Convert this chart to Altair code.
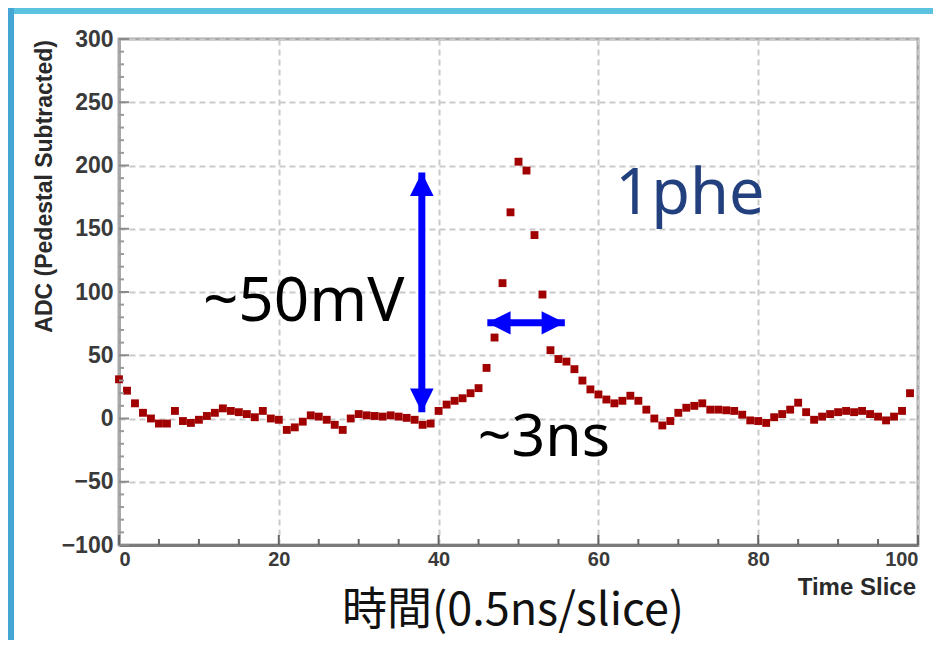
import altair as alt
import pandas as pd

# ---- data ----
slices = list(range(100))
adc = [31, 22, 12, 4.5, 0, -4, -4, 6, -2, -3.5,
       -1, 2, 4.5, 8, 6, 5, 3.5, 1, 6, 0,
       -1, -9, -7, -2.5, 2.5, 1.5, -1, -5, -9, 0,
       3.5, 2.5, 2, 1.5, 2.5, 1.5, 0.5, -1, -5, -4,
       6, 11, 14, 16, 20, 24, 40, 64, 107, 163,
       203, 196, 145, 98, 54, 47, 45, 39, 30, 23,
       19, 15, 12, 14, 18, 14, 7, 0, -5.5, -2,
       4.5, 8.5, 10, 12, 7, 7, 6.5, 6, 3, -1.5,
       -2, -3.5, 1, 3.5, 7, 12.5, 5, -1, 1.5, 3.5,
       5, 6, 5, 6, 3.5, 1.5, -1.5, 1.5, 6, 20]

x_major = [0, 20, 40, 60, 80, 100]
x_minor = [v for v in range(0, 101, 5) if v % 20 != 0]
y_major = [-100, -50, 0, 50, 100, 150, 200, 250, 300]
y_minor = [v for v in range(-100, 301, 10) if v % 50 != 0]

# annotations (data coordinates)
varrow_x = [37.9]
varrow_top = [194.5]
varrow_bot = [5.0]
harrow_y = [75.6]
harrow_left = [46.1]
harrow_right = [55.8]

W, H = 799, 506
xs = alt.Scale(domain=[0, 100], nice=False, zero=False)
ys = alt.Scale(domain=[-100, 300], nice=False, zero=False)

TICK_FONT = "Liberation Sans"

XAX = alt.Axis(values=x_major, title=None, grid=True, ticks=False,
               labelPadding=4, domainColor="#7A7A7A", domainWidth=3,
               labelFlush=True, labelOverlap=False, labelFontSize=20)
YAX = alt.Axis(values=y_major, title=None, grid=True, ticks=False,
               labelPadding=6, domainColor="#A8A8A8", domainWidth=3,
               labelFlush=False, labelOverlap=False, labelBaseline="middle",
               labelFontSize=23)


def X(field):
    return alt.X(field, scale=xs, axis=XAX)


def Y(field):
    return alt.Y(field, scale=ys, axis=YAX)


df = pd.DataFrame({"slice": slices, "adc": adc})
one = pd.DataFrame({"a": [0]})

points = alt.Chart(df).mark_square(size=62, color="#A00000", opacity=1).encode(
    x=X("slice:Q"), y=Y("adc:Q"))

ymaj = alt.Chart(pd.DataFrame({"v": y_major})).mark_rule(color="#8A8A8A", strokeWidth=2).encode(
    y=Y("v:Q"), x=alt.value(0), x2=alt.value(10))
ymin = alt.Chart(pd.DataFrame({"v": y_minor})).mark_rule(color="#9A9A9A", strokeWidth=2).encode(
    y=Y("v:Q"), x=alt.value(0), x2=alt.value(5))
xmaj = alt.Chart(pd.DataFrame({"v": x_major})).mark_rule(color="#666666", strokeWidth=2).encode(
    x=X("v:Q"), y=alt.value(H), y2=alt.value(H - 10))
xmin = alt.Chart(pd.DataFrame({"v": x_minor})).mark_rule(color="#666666", strokeWidth=2).encode(
    x=X("v:Q"), y=alt.value(H), y2=alt.value(H - 6))

BLUE = "#0000FF"
vshaft = alt.Chart(pd.DataFrame({"x": varrow_x, "y1": varrow_top, "y2": varrow_bot})).mark_rule(
    color=BLUE, strokeWidth=7).encode(x=X("x:Q"), y=Y("y1:Q"), y2="y2:Q")
vhead_up = alt.Chart(pd.DataFrame({"x": varrow_x, "y": varrow_top})).mark_point(
    shape="M0,0L-1,2L1,2Z", size=560, filled=True, color=BLUE, opacity=1, strokeWidth=0).encode(
    x=X("x:Q"), y=Y("y:Q"))
vhead_dn = alt.Chart(pd.DataFrame({"x": varrow_x, "y": varrow_bot})).mark_point(
    shape="M0,0L-1,-2L1,-2Z", size=560, filled=True, color=BLUE, opacity=1, strokeWidth=0).encode(
    x=X("x:Q"), y=Y("y:Q"))

hshaft = alt.Chart(pd.DataFrame({"x1": harrow_left, "x2": harrow_right, "y": harrow_y})).mark_rule(
    color=BLUE, strokeWidth=7).encode(x=X("x1:Q"), x2="x2:Q", y=Y("y:Q"))
hhead_l = alt.Chart(pd.DataFrame({"x": harrow_left, "y": harrow_y})).mark_point(
    shape="M0,0L2,-1L2,1Z", size=540, filled=True, color=BLUE, opacity=1, strokeWidth=0).encode(
    x=X("x:Q"), y=Y("y:Q"))
hhead_r = alt.Chart(pd.DataFrame({"x": harrow_right, "y": harrow_y})).mark_point(
    shape="M0,0L-2,-1L-2,1Z", size=540, filled=True, color=BLUE, opacity=1, strokeWidth=0).encode(
    x=X("x:Q"), y=Y("y:Q"))


def label(text, x, y, size, color="#000000", font="Noto Sans"):
    return alt.Chart(pd.DataFrame({"x": [x], "y": [y], "t": [text]})).mark_text(
        align="left", baseline="alphabetic", font=font, fontSize=size, color=color).encode(
        x=X("x:Q"), y=Y("y:Q"), text="t:N")


t50 = label("~50mV", 10.5, 77, 62)
t3 = label("~3ns", 44.9, -30, 59)
t1 = label("1phe", 62.1, 162, 63, color="#22407E")

ytitle = alt.Chart(one).mark_text(
    text="ADC (Pedestal Subtracted)", angle=270, align="right", baseline="middle",
    font=TICK_FONT, fontWeight="bold", fontSize=23, color="#2A2A2A").encode(
    x=alt.value(-74), y=alt.value(1))
xtitle = alt.Chart(one).mark_text(
    text="Time Slice", align="right", baseline="middle",
    font=TICK_FONT, fontWeight="bold", fontSize=24, color="#2A2A2A").encode(
    x=alt.value(797), y=alt.value(549))
jtitle = alt.Chart(one).mark_text(
    text="時間(0.5ns/slice)", align="center", baseline="alphabetic",
    font="Noto Sans CJK JP", fontSize=45, color="#111111").encode(
    x=alt.value(394), y=alt.value(586))

top_strip = alt.Chart(one).mark_rect(color="#5BC3E0").encode(
    x=alt.value(-111), x2=alt.value(W + 15), y=alt.value(-31), y2=alt.value(-25))
left_strip = alt.Chart(one).mark_rect(color="#45A6D6").encode(
    x=alt.value(-111), x2=alt.value(-105), y=alt.value(-31), y2=alt.value(H + 95))

chart = alt.layer(
    points,
    top_strip, left_strip,
    ymin, ymaj, xmin, xmaj,
    vshaft, vhead_up, vhead_dn, hshaft, hhead_l, hhead_r,
    t50, t3, t1, ytitle, xtitle, jtitle,
).properties(
    width=W, height=H,
    padding={"left": 111, "top": 31, "right": 15, "bottom": 95},
    autosize=alt.AutoSizeParams(type="none"),
    background="#FFFFFF",
).configure_view(
    stroke="#A8A8A8", strokeWidth=3
).configure_axis(
    labelFont=TICK_FONT, labelFontWeight="bold", labelColor="#3A3A3A",
    gridColor="#CACACA", gridDash=[6, 4], gridWidth=2,
)

chart.save("out.html", embed_options={"renderer": "svg", "actions": False})
